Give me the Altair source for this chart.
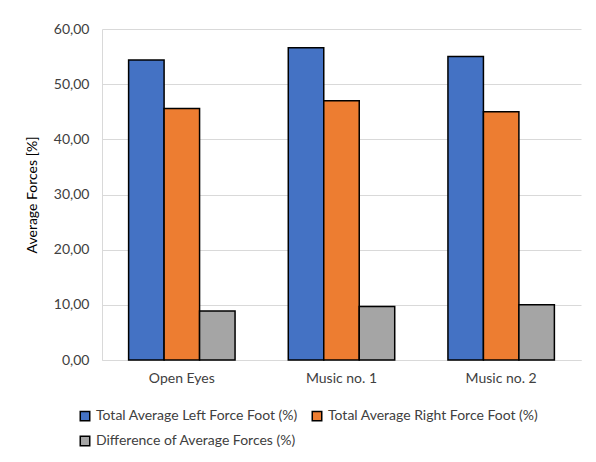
import altair as alt
import pandas as pd

categories = ["Open Eyes", "Music no. 1", "Music no. 2"]
series_names = [
    "Total Average Left Force Foot (%)",
    "Total Average Right Force Foot (%)",
    "Difference of Average Forces (%)",
]
left_force = [54.4, 56.6, 55.0]
right_force = [45.6, 47.0, 45.0]
difference = [8.9, 9.7, 10.0]
colors = ["#4472C4", "#ED7D31", "#A5A5A5"]

rows = []
for name, vals in zip(series_names, [left_force, right_force, difference]):
    for c, v in zip(categories, vals):
        rows.append({"cat": c, "series": name, "value": v})
df = pd.DataFrame(rows)

font = "Lato"
chart = alt.Chart(df).mark_bar(stroke="black", strokeWidth=1.5).encode(
    x=alt.X("cat:N", sort=categories, title=None,
            scale=alt.Scale(paddingInner=1/3, paddingOuter=1/6),
            axis=alt.Axis(labelAngle=0, ticks=False, domainColor="#d9d9d9",
                          labelFontSize=14, labelColor="#404040", labelPadding=11, labelFont=font)),
    xOffset=alt.XOffset("series:N", sort=series_names, scale=alt.Scale(paddingInner=0, paddingOuter=0)),
    y=alt.Y("value:Q", title="Average Forces [%]",
            scale=alt.Scale(domain=[0, 60], nice=False),
            axis=alt.Axis(values=[0, 10, 20, 30, 40, 50, 60], ticks=False,
                          labelExpr="replace(format(datum.value, '.2f'), '.', ',')",
                          domain=True, domainColor="#d9d9d9", gridColor="#d9d9d9",
                          labelFontSize=14, labelColor="#404040", labelPadding=13, labelFont=font,
                          titleFontSize=14, titleFontWeight="normal", titleColor="#000000",
                          titleFont=font, titlePadding=14)),
    color=alt.Color("series:N", sort=series_names,
                    scale=alt.Scale(domain=series_names, range=colors),
                    legend=alt.Legend(title=None, orient="none", legendX=-24, legendY=380,
                                      direction="horizontal",
                                      columns=2, columnPadding=11, rowPadding=9,
                                      symbolType="square", symbolSize=90,
                                      symbolStrokeColor="black", symbolStrokeWidth=1.5,
                                      labelFontSize=14, labelColor="#404040", labelFont=font,
                                      labelLimit=400)),
).properties(
    width=479, height=331,
    padding={"left": 102, "top": 29, "right": 15, "bottom": 102},
    autosize="none",
).configure_view(stroke=None)

chart.save("out.html", embed_options={"renderer": "svg", "actions": False})
